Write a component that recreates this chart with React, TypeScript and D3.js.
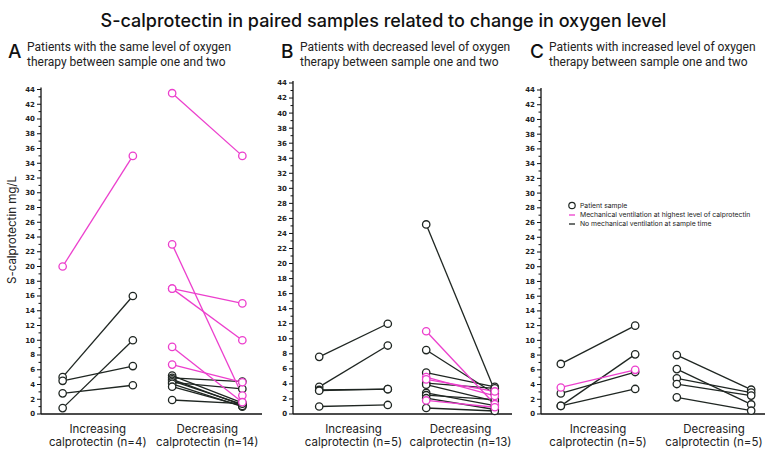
import React from 'react';
import * as d3 from 'd3';

const PINK = '#ec3fcd';
const DARK = '#1f2622';

// values: [first sample, second sample]
const aIncPairs = [[20, 35], [5, 16], [4.5, 6.5], [2.8, 3.9], [0.8, 10]];
const aIncVent = [true, false, false, false, false];
const aDecPairs = [
  [43.5, 35], [23, 2.5], [17, 15], [17, 10], [9.1, 1.6], [6.7, 4.3],
  [5.2, 1.5], [4.9, 4.4], [4.7, 1.2], [4.5, 1.3], [4.3, 3.4], [4.1, 1.0], [3.7, 1.1], [1.9, 1.4],
];
const aDecVent = [true, true, true, true, true, true, false, false, false, false, false, false, false, false];

const bIncPairs = [[7.6, 12], [3.6, 9.1], [3.2, 3.3], [3.1, 3.3], [1.0, 1.2]];
const bIncVent = [false, false, false, false, false];
const bDecPairs = [
  [25.2, 3.1], [8.5, 2.7], [5.5, 3.6], [4.1, 3.4], [3.9, 1.7], [2.8, 1.1], [2.5, 1.9], [2.1, 0.6], [0.8, 0.4],
  [11, 1.3], [4.9, 2.4], [4.6, 3.0], [1.8, 0.9],
];
const bDecVent = [false, false, false, false, false, false, false, false, false, true, true, true, true];

const cIncPairs = [[6.8, 12], [3.6, 6.0], [2.8, 5.7], [1.1, 8.1], [1.1, 3.4]];
const cIncVent = [false, true, false, false, false];
const cDecPairs = [[8.0, 3.3], [6.1, 1.3], [4.85, 2.9], [4.07, 2.5], [2.26, 0.45]];
const cDecVent = [false, false, false, false, false];

const groups = ['Increasing', 'Decreasing'];
const samples = ['first', 'second'];
const yTicks = d3.range(0, 45, 2);
const yMinor = d3.range(0, 45, 1);
const legendItems = [
  'Patient sample',
  'Mechanical ventilation at highest level of calprotectin',
  'No mechanical ventilation at sample time',
];

const panels = [
  {
    letter: 'A', x0: 8,
    sub: ['Patients with the same level of oxygen', 'therapy between sample one and two'],
    axisX: 41, axisEnd: 262, top: 89.5, band: [43, 262],
    inc: aIncPairs, incVent: aIncVent, dec: aDecPairs, decVent: aDecVent, n: [4, 14],
  },
  {
    letter: 'B', x0: 281,
    sub: ['Patients with decreased level of oxygen', 'therapy between sample one and two'],
    axisX: 293, axisEnd: 512, top: 83, band: [300, 514],
    inc: bIncPairs, incVent: bIncVent, dec: bDecPairs, decVent: bDecVent, n: [5, 13],
  },
  {
    letter: 'C', x0: 530,
    sub: ['Patients with increased level of oxygen', 'therapy between sample one and two'],
    axisX: 541, axisEnd: 765, top: 90, band: [540, 772],
    inc: cIncPairs, incVent: cIncVent, dec: cDecPairs, decVent: cDecVent, n: [5, 5],
  },
];

const Panel = ({ p, legend }: any) => {
  const y = d3.scaleLinear().domain([0, 44]).range([414, p.top]);
  const xg = d3.scaleBand().domain(groups).range(p.band).padding(0);
  const xs = d3.scalePoint().domain(samples).range([0, xg.bandwidth()]).padding(0.28);
  const line = d3.line<[number, number]>();

  const sets = [
    { g: 'Increasing', pairs: p.inc, vent: p.incVent },
    { g: 'Decreasing', pairs: p.dec, vent: p.decVent },
  ];

  const marks: any[] = [];
  sets.forEach((s) => {
    s.pairs.forEach((pr: number[], i: number) => {
      const pts: [number, number][] = samples.map((k, j) => [
        (xg(s.g) as number) + (xs(k) as number),
        y(pr[j]),
      ]);
      marks.push({ pts, vent: s.vent[i] });
    });
  });
  // pink patients are drawn over the black ones
  const ordered = [...marks.filter((m) => !m.vent), ...marks.filter((m) => m.vent)];

  return (
    <g>
      <text x={p.x0} y={58} fontFamily="Inter, sans-serif" fontSize={19} fontWeight={500} fill="#111">
        {p.letter}
      </text>
      {p.sub.map((t: string, i: number) => (
        <text key={i} x={p.x0 + 19} y={51 + i * 14.5} fontFamily="Roboto, sans-serif" fontSize={12} fill="#222">
          {t}
        </text>
      ))}

      {/* y axis */}
      <line x1={p.axisX} x2={p.axisX} y1={414} y2={p.top - 2} stroke="#111" strokeWidth={1.3} />
      {yMinor.map((v) => (
        <line key={'m' + v} x1={p.axisX - (v % 2 === 0 ? 4 : 2.5)} x2={p.axisX} y1={y(v)} y2={y(v)} stroke="#111" strokeWidth={1} />
      ))}
      {yTicks.map((v) => (
        <text key={'t' + v} x={p.axisX - 6} y={y(v)} dy="0.35em" textAnchor="end"
          fontFamily="DejaVu Sans, sans-serif" fontSize={7} fontWeight="bold" fill="#222">
          {v}
        </text>
      ))}
      {/* x axis */}
      <line x1={p.axisX} x2={p.axisEnd} y1={414} y2={414} stroke="#111" strokeWidth={1.3} />
      {groups.map((g, i) => {
        const cx = (xg(g) as number) + xg.bandwidth() / 2;
        return (
          <text key={g} x={cx} y={433} textAnchor="middle" fontFamily="Inter, sans-serif" fontSize={11.5} fill="#222">
            <tspan x={cx}>{g}</tspan>
            <tspan x={cx} dy={13}>{`calprotectin (n=${p.n[i]})`}</tspan>
          </text>
        );
      })}

      {ordered.map((m, i) => (
        <path key={'l' + i} d={line(m.pts) as string} stroke={m.vent ? PINK : DARK} strokeWidth={1.3} fill="none" />
      ))}
      {ordered.map((m, i) =>
        m.pts.map((pt: [number, number], j: number) => (
          <circle key={'c' + i + '-' + j} cx={pt[0]} cy={pt[1]} r={3.7} fill="white"
            stroke={m.vent ? PINK : DARK} strokeWidth={1.3} />
        ))
      )}

      {legend && (
        <g fontFamily="Inter, sans-serif" fontSize={6.8} fill="#222">
          <circle cx={572} cy={205.5} r={3.2} fill="white" stroke={DARK} strokeWidth={1.2} />
          <line x1={569} x2={575} y1={215} y2={215} stroke={PINK} strokeWidth={1.3} />
          <line x1={569} x2={575} y1={224} y2={224} stroke={DARK} strokeWidth={1.3} />
          {legendItems.map((t, i) => (
            <text key={t} x={580} y={205.5 + i * 9.3} dy="0.35em">{t}</text>
          ))}
        </g>
      )}
    </g>
  );
};

export default function App() {
  return (
    <svg width={767} height={451} style={{ position: 'absolute', left: 0, top: 0, background: 'white' }}>
      <text x={383.5} y={27} textAnchor="middle" fontFamily="Inter, sans-serif" fontSize={18} fontWeight={500} fill="#111">
        S-calprotectin in paired samples related to change in oxygen level
      </text>
      <text transform="translate(16,230) rotate(-90)" textAnchor="middle" fontFamily="Inter, sans-serif" fontSize={11.5} fill="#222">
        S-calprotectin mg/L
      </text>
      {panels.map((p, i) => (
        <Panel key={p.letter} p={p} legend={i === 2} />
      ))}
    </svg>
  );
}
